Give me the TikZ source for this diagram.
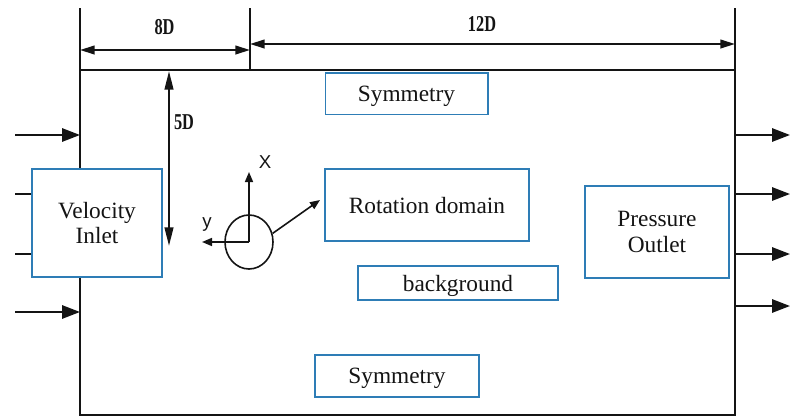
\documentclass[tikz,border=0pt]{standalone}
\usepackage{fontspec}
\setmainfont{Liberation Serif}
\newfontfamily\axisfont{Liberation Sans}
\usetikzlibrary{arrows.meta,positioning,shapes.geometric}
\definecolor{FlowInk}{HTML}{141414}
\definecolor{FlowBlue}{HTML}{2E7DB6}
\tikzset{
  flow wall/.style={draw=FlowInk, line width=1.5pt},
  flow box/.style={draw=FlowBlue, fill=white, line width=1pt, inner sep=0pt, align=center,
    text depth=0pt, font=\fontsize{17.5}{19}\selectfont, text=FlowInk},
  flow dim/.style={font=\bfseries\fontsize{17}{18}\selectfont, text=FlowInk, inner sep=0pt},
  flow stream/.style={draw=FlowInk, line width=1.5pt, -{Triangle[length=13.5pt,width=10pt]}},
  flow span/.style={draw=FlowInk, line width=1.5pt, {Triangle[length=11pt,width=6.5pt]}-{Triangle[length=11pt,width=6.5pt]}},
  flow tall span/.style={draw=FlowInk, line width=1.5pt, {Triangle[length=14pt,width=6.5pt]}-{Triangle[length=14pt,width=6.5pt]}},
  flow axis/.style={draw=FlowInk, line width=1.2pt, -{Triangle[length=7.5pt,width=6pt]}},
  flow axis label/.style={font=\axisfont\fontsize{14}{16}\selectfont, text=FlowInk, inner sep=0pt},
  flow cylinder/.style={ellipse, draw=FlowInk, line width=1.2pt, minimum width=36pt, minimum height=40.5pt, inner sep=0pt},
}
\newcommand{\DimLabel}[1]{\scalebox{0.72}[1]{#1}}

\begin{document}
\begin{tikzpicture}[x=0.75pt,y=-0.75pt]
  \useasboundingbox (0,0) rectangle (790,418);

  % domain and extension lines
  \coordinate (domNW) at (80,70);
  \coordinate (domSE) at (735,415);
  \coordinate (ext0) at (80,8);
  \coordinate (ext8) at (250,8);
  \coordinate (ext20) at (735,8);
  \draw[flow wall] (domNW) rectangle (domSE);
  \draw[flow wall] (ext0) -- (domNW);
  \draw[flow wall] (ext8) -- (ext8 |- domNW);
  \draw[flow wall] (ext20) -- (ext20 |- domNW);

  % dimensions
  \coordinate (s8a) at (80,50);
  \coordinate (s8b) at (250,50);
  \coordinate (s12a) at (250,44);
  \coordinate (s12b) at (735,44);
  \coordinate (s5a) at (169,71);
  \coordinate (s5b) at (169,246);
  \draw[flow span] (s8a) -- (s8b);
  \draw[flow span] (s12a) -- (s12b);
  \draw[flow tall span] (s5a) -- (s5b);
  \node[flow dim] (lab8) at (164.5,27) {\DimLabel{8D}};
  \node[flow dim] (lab12) at (482,24) {\DimLabel{12D}};
  \node[flow dim] (lab5) at (184,122) {\DimLabel{5D}};

  % inflow / outflow
  \foreach \y [count=\i] in {135,194,254,312} {
    \coordinate (in\i) at (15,\y);
    \draw[flow stream] (in\i) -- (in\i -| domNW);
  }
  \foreach \y [count=\i] in {135,194,254,306} {
    \coordinate (out\i) at (790,\y);
    \draw[flow stream] (out\i -| domSE) -- (out\i);
  }

  % boundary and zone labels
  \node[flow box, minimum width=97.5pt, minimum height=81pt] (inlet) at (97,223) {Velocity\\Inlet};
  \node[flow box, minimum width=108pt, minimum height=69pt] (outlet) at (657,232) {Pressure\\Outlet};
  \node[flow box, minimum width=122pt, minimum height=31pt] (symtop) at (406.5,93.5) {Symmetry};
  \node[flow box, minimum width=153pt, minimum height=54pt] (rotor) at (427,205) {Rotation domain};
  \node[flow box, minimum width=150pt, minimum height=25.5pt] (backgr) at (458,283) {background};
  \node[flow box, minimum width=123pt, minimum height=31.5pt] (symbot) at (397,376) {Symmetry};

  % cylinder and axes
  \node[flow cylinder] (cyl) at (249,242) {};
  \coordinate (xtip) at (249,172);
  \coordinate (ytip) at (202,242);
  \coordinate (spin) at (320,200);
  \draw[flow axis] (cyl.center) -- (xtip);
  \draw[flow axis] (cyl.center) -- (ytip);
  \draw[flow axis] (cyl.20) -- (spin);
  \node[flow axis label] (xlab) at (265,162) {X};
  \node[flow axis label] (ylab) at (207,225) {y};
\end{tikzpicture}
\end{document}
